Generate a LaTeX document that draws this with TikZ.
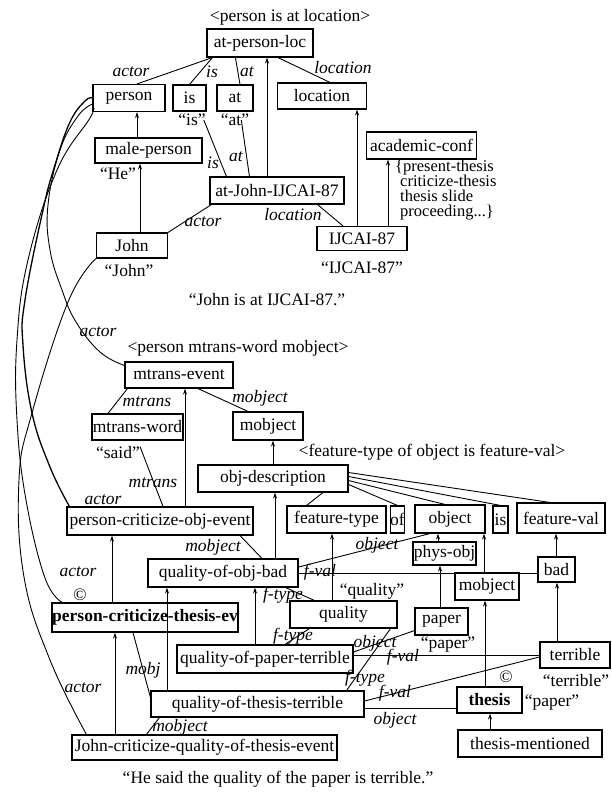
\documentclass[tikz,border=0pt]{standalone}
\usepackage{fontspec}
\setmainfont{Liberation Serif}
\usetikzlibrary{arrows.meta}
\begin{document}
\begin{tikzpicture}[x=1pt,y=-1pt,
  txt/.style={font=\fontsize{17.5}{19}\selectfont, inner sep=0pt},
  brace/.style={font=\fontsize{16.5}{17}\selectfont, inner sep=0pt, anchor=base west},
  lab/.style={font=\fontsize{17.5}{19}\selectfont\itshape, inner sep=0pt},
  box/.style 2 args={draw, line width=1.1pt, inner sep=0pt, font=\fontsize{17.5}{19}\selectfont, minimum width=#1, minimum height=#2},
  edge/.style={line width=0.9pt},
  arr/.style={line width=0.9pt, -{Stealth[length=6pt,width=4pt]}},
]
\useasboundingbox (0,0) rectangle (611,792);
% ---------- top part ----------
\node[txt] (t1) at (290,17) {<person is at location>};
\node[box={106}{28}] (apl) at (260,43) {at-person-loc};
\node[box={72}{27}] (person) at (129,98) {person};
\node[box={33}{26}] (isb) at (189.5,98) {is};
\node[box={36}{26}] (atb) at (235,98) {at};
\node[box={89}{26}] (location) at (322,96) {location};
\node[txt] (isq) at (192,120) {``is''};
\node[txt] (atq) at (235,120) {``at''};
\node[box={107}{25}] (male) at (148.5,150.5) {male-person};
\node[txt] (heq) at (118,174) {``He''};
\node[box={110}{27}] (acad) at (421.5,145.5) {academic-conf};
\node[brace] (br1) at (395,171) {\{present-thesis};
\node[brace] (br2) at (400,186) {criticize-thesis};
\node[brace] (br3) at (400,201) {thesis slide};
\node[brace] (br4) at (400,216) {proceeding...\}};
\node[box={134}{27}] (atj) at (277,190.5) {at-John-IJCAI-87};
\node[box={71}{25}] (john) at (132,245.5) {John};
\node[txt] (johnq) at (129,271) {``John''};
\node[box={90}{24}] (ijcai) at (362,238.5) {IJCAI-87};
\node[txt] (ijq) at (362,268) {``IJCAI-87''};
\node[txt] (t2) at (267,300) {``John is at IJCAI-87.''};
% ---------- middle ----------
\node[txt] (t3) at (238,348) {<person mtrans-word mobject>};
\node[box={108}{26}] (mte) at (179,375) {mtrans-event};
\node[box={91}{26}] (mtw) at (137.5,427) {mtrans-word};
\node[box={70}{28}] (mob1) at (268,426) {mobject};
\node[txt] (saidq) at (118,453) {``said''};
\node[txt] (t4) at (432,452) {<feature-type of object is feature-val>};
\node[box={150}{27}] (objd) at (273,478.5) {obj-description};
\node[box={186}{28}] (pcoe) at (160,521) {person-criticize-obj-event};
\node[box={99}{27}] (ftype) at (336.5,519.5) {feature-type};
\node[box={12}{27}] (of) at (397.5,519.5) {of};
\node[box={70}{28}] (object) at (450,519) {object};
\node[box={15}{27}] (is2) at (500.5,519.5) {is};
\node[box={88}{30}] (fval) at (561,518) {feature-val};
\node[box={150}{28}] (qob) at (223,573) {quality-of-obj-bad};
\node[box={63}{23}] (phys) at (444.5,553.5) {phys-obj};
\node[box={64}{27}] (mob2) at (487,586.5) {mobject};
\node[box={37}{25}] (bad) at (556.5,569.5) {bad};
\node[box={186}{29}] (pcte) at (145,617.5) {\textbf{person-criticize-thesis-ev}};
\node[box={107}{27}] (quality) at (343.5,614.5) {quality};
\node[txt] (qualq) at (372,591) {``quality''};
\node[box={53}{27}] (paper) at (441.5,621.5) {paper};
\node[txt] (paperq) at (448,645) {``paper''};
\node[box={176}{28}] (qopt) at (265,659) {quality-of-paper-terrible};
\node[box={70}{26}] (terrible) at (575,655) {terrible};
\node[txt] (terrq) at (576,681) {``terrible''};
\node[box={213}{26}] (qott) at (257.5,704) {quality-of-thesis-terrible};
\node[box={65}{26}] (thesis) at (489.5,700) {\textbf{thesis}};
\node[txt] (copy2) at (506,677) {\textcopyright};
\node[txt] (paperq2) at (552,703) {``paper''};
\node[box={265}{25}] (jcq) at (204.5,747.5) {John-criticize-quality-of-thesis-event};
\node[box={144}{27}] (tm) at (530,743.5) {thesis-mentioned};
\node[txt] (t5) at (278,779) {``He said the quality of the paper is terrible.''};
% ---------- labels ----------
\node[lab] (l1) at (131,72) {actor};
\node[lab] (l2) at (212,72) {is};
\node[lab] (l3) at (247,72) {at};
\node[lab] (l4) at (343,68) {location};
\node[lab] (l5) at (213,163) {is};
\node[lab] (l6) at (236,157) {at};
\node[lab] (l7) at (203,222) {actor};
\node[lab] (l8) at (293,215) {location};
\node[lab] (l9) at (98,332) {actor};
\node[lab] (l10) at (147,402) {mtrans};
\node[lab] (l11) at (260,398) {mobject};
\node[lab] (l12) at (153,483) {mtrans};
\node[lab] (l13) at (103,500) {actor};
\node[lab] (l14) at (213,547) {mobject};
\node[lab] (l15) at (320,572) {f-val};
\node[lab] (l16) at (377,545) {object};
\node[lab] (l17) at (78,572) {actor};
\node[txt] (copy1) at (80,595) {\textcopyright};
\node[lab] (l18) at (283,595) {f-type};
\node[lab] (l19) at (293,636) {f-type};
\node[lab] (l20) at (375,643) {object};
\node[lab] (l21) at (403,657) {f-val};
\node[lab] (l22) at (365,678) {f-type};
\node[lab] (l23) at (395,693) {f-val};
\node[lab] (l24) at (395,720) {object};
\node[lab] (l25) at (143,670) {mobj};
\node[lab] (l26) at (83,688) {actor};
\node[lab] (l27) at (180,727) {mobject};
% ---------- edges top ----------
\draw[edge] ([xshift=6pt]apl.south west) -- ([xshift=8pt]person.north);
\draw[edge] ([xshift=6pt]apl.south west) -- (isb.north);
\draw[edge] ([xshift=29pt]apl.south west) -- ([xshift=5pt]atb.north);
\draw[edge] ([xshift=18pt]apl.south) -- ([xshift=8pt]location.north);
\draw[arr] ([xshift=-10pt]atj.north) -- ([xshift=7pt]apl.south);
\draw[arr] ([xshift=8pt]john.north) -- ([xshift=-8.5pt]male.south);
\draw[arr] ([xshift=-11.5pt]male.north) -- ([xshift=8pt]person.south);
\draw[arr] ([xshift=-5pt]ijcai.north) -- ([xshift=35pt]location.south);
\draw[arr] ([xshift=26pt]ijcai.north) -- ([xshift=-33.5pt]acad.south);
\draw[edge] ([xshift=17pt]atj.north west) -- ([xshift=-2pt]isq.east);
\draw[edge] ([xshift=40pt]atj.north west) -- ([xshift=-8pt]atq.east);
\draw[edge] ([xshift=2pt]atj.south west) -- (john.north east);
\draw[edge] ([xshift=-27pt]atj.south east) -- ([xshift=-19pt]ijcai.north);
% ---------- edges middle ----------
\draw[edge] ([xshift=3pt]mte.south west) -- ([xshift=-29.5pt]mtw.north);
\draw[edge] ([xshift=19pt]mte.south) -- ([xshift=-20pt]mob1.north);
\draw[arr] ([xshift=25pt]pcoe.north) -- ([xshift=6pt]mte.south);
\draw[arr] (objd.north) -- ([xshift=5pt]mob1.south);
\draw[edge] (saidq.north east) -- ([xshift=3pt]pcoe.north);
\draw[edge] ([xshift=80pt]pcoe.south) -- ([xshift=39pt]qob.north);
\draw[arr] ([xshift=52pt]qob.north) -- ([xshift=2pt]objd.south);
\draw[edge] ([xshift=50pt]objd.south) -- ([xshift=-30pt]ftype.north);
\draw[edge] ([yshift=-6pt]objd.east) -- (of.north);
\draw[edge] ([yshift=-2pt]objd.east) -- ([xshift=-5pt]object.north);
\draw[edge] ([yshift=2pt]objd.east) -- (is2.north);
\draw[edge] ([yshift=6pt]objd.east) -- ([xshift=-11pt]fval.north);
\draw[arr] ([xshift=-11.5pt]quality.north) -- ([xshift=-4.5pt]ftype.south);
\draw[arr] ([xshift=-6.5pt]phys.north) -- ([xshift=-12pt]object.south);
\draw[arr] ([xshift=-3pt]mob2.north) -- ([xshift=34pt]object.south);
\draw[arr] ([xshift=-0.5pt]bad.north) -- ([xshift=-5pt]fval.south);
\draw[arr] ([xshift=-1.5pt]paper.north) -- ([xshift=-4.5pt]phys.south);
\draw[arr] ([xshift=-4.5pt]thesis.north) -- ([xshift=-2pt]mob2.south);
\draw[arr] ([xshift=-18pt]terrible.north) -- ([xshift=0.5pt]bad.south);
\draw[arr] ([xshift=-40pt]tm.north) -- ([xshift=0.5pt]thesis.south);
\draw[arr] ([xshift=-10pt]qopt.north) -- ([xshift=32pt]qob.south);
\draw[arr] ([xshift=-90.5pt]qott.north) -- ([xshift=-56pt]qob.south);
\draw[arr] ([xshift=-33pt]pcte.north) -- ([xshift=-48pt]pcoe.south);
\draw[arr] ([xshift=-89.5pt]jcq.north) -- ([xshift=-30pt]pcte.south);
\draw[edge] ([yshift=6pt]qob.east) -- ([xshift=-20pt]object.south);
\draw[edge] (qob.east) -- (bad.west |- qob.east);
\draw[edge] ([xshift=-13pt]qob.south east) -- ([xshift=25pt]quality.north west);
\draw[edge] ([xshift=20pt]qopt.north) -- ([xshift=20pt]quality.south west);
\draw[edge] ([xshift=-18pt]qott.north east) -- ([xshift=-7pt]quality.south east);
\draw[edge] ([yshift=7pt]qopt.east) -- ([yshift=5pt]paper.south west);
\draw[edge] ([yshift=4pt]qopt.east) -- (terrible.west);
\draw[edge] ([yshift=3pt]qott.east) -- ([yshift=-2pt]terrible.west);
\draw[edge] ([yshift=-4pt]qott.east) -- ([yshift=-8pt]thesis.west);
\draw[edge] ([xshift=-12pt]pcte.south) -- ([yshift=-7pt]qott.north west);
\draw[edge] ([xshift=75pt]jcq.north west) -- ([xshift=9pt]qott.south west);
% ---------- long actor curves on the left ----------
\draw[edge] plot[smooth, tension=0.7] coordinates {([yshift=-4pt]mte.north west) (100,352) (76,322) (62,290) (50,250) (48,205) (60,150) (78,116) ([yshift=-6pt]person.west)};
\draw[edge, line width=1.3pt] plot[smooth, tension=0.7] coordinates {([xshift=3pt]pcoe.north west) (50,467) (32,413) (23,345) (25,300) (43,210) (55,165) (70,122) (85,101) (person.west)};
\draw[edge] plot[smooth, tension=0.7] coordinates {([xshift=11pt]pcte.north west) (45,578) (26,500) (17,420) (17,340) (28,260) (57,170) (90,118) ([yshift=-10pt]person.west)};
\draw[edge] plot[smooth, tension=0.7] coordinates {([xshift=15pt]jcq.north west) (50,660) (24,577) (19,480) (32,413) (68,302) (john.south west)};
\end{tikzpicture}
\end{document}
